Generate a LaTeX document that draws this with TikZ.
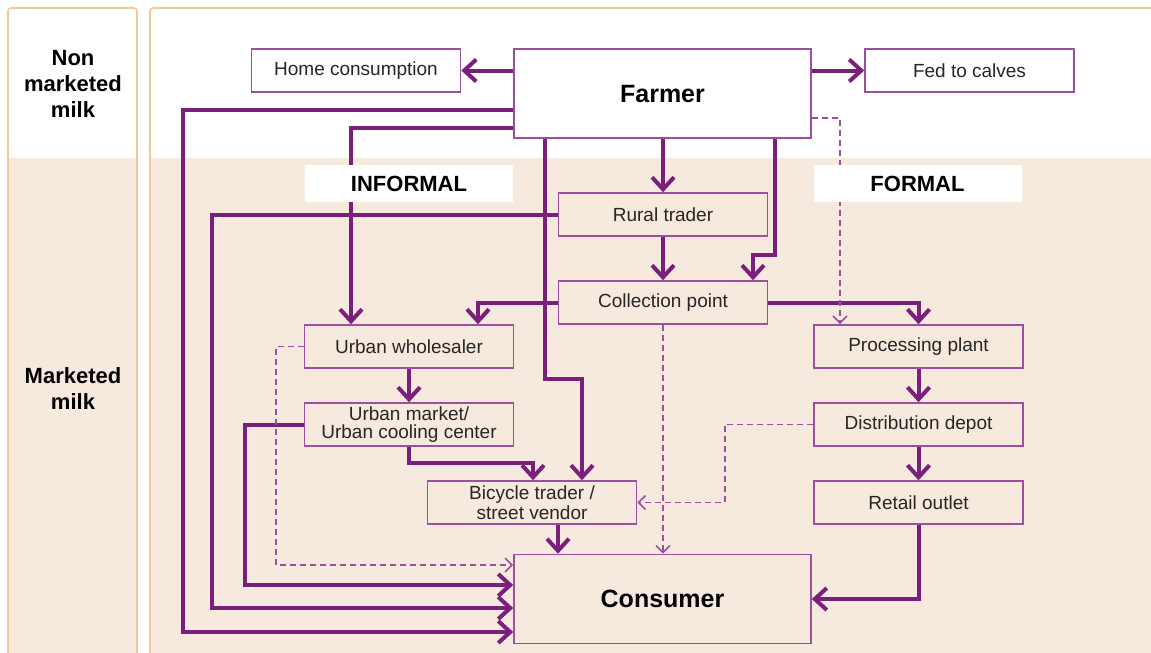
\documentclass[tikz,border=0pt]{standalone}
\usepackage{fontspec}
\setmainfont{Liberation Sans}
\usetikzlibrary{arrows.meta}
\definecolor{milk}{HTML}{7A1F7C}
\definecolor{boxline}{HTML}{9C4F9E}
\definecolor{sand}{HTML}{F6E9DD}
\definecolor{peach}{HTML}{F2C89B}
\definecolor{ink}{HTML}{262626}

\begin{document}
\begin{tikzpicture}[x=0.5pt, y=-0.5pt, >={Straight Barb[length=6pt,width=11pt]},
	box/.style={draw=boxline, line width=0.8pt, minimum width=104.5pt, minimum height=21.5pt, inner sep=0pt, text=ink, font=\fontsize{9.5}{8.8}\selectfont, align=center},
	big/.style={box, minimum width=148.5pt, minimum height=44.5pt, text=black, text depth=0pt, font=\fontsize{12.5}{14}\selectfont\bfseries},
	flow/.style={->, draw=milk, line width=2pt},
	maybe/.style={-{Straight Barb[length=3.5pt,width=7pt]}, draw=boxline, line width=0.8pt, dash pattern=on 3pt off 2pt},
	tag/.style={font=\fontsize{11}{13}\selectfont\bfseries, text=black, align=center}]
				\useasboundingbox (0,0) rectangle (1151,653);
				% the two panels
				\fill[white] (8,8) rectangle (137,660);
				\fill[sand] (8,158) rectangle (137,660);
				\draw[peach, line width=0.8pt, rounded corners=1.5pt] (8,8) rectangle (137,660);
				\fill[white] (150,8) rectangle (1160,660);
				\fill[sand] (150,158) rectangle (1160,660);
				\draw[peach, line width=0.8pt, rounded corners=1.5pt] (150,8) rectangle (1160,660);
				\node[tag] (nonmkt) at (73,84) {Non\\marketed\\milk};
				\node[tag] (mkt) at (73,389) {Marketed\\milk};
				% nodes
				\node[big, fill=white] (farmer) at (662.5,93.5) {Farmer};
				\node[box, fill=white] (home) at (356,70.5) {Home consumption};
				\node[box, fill=white] (fed) at (969.5,70.5) {Fed to calves};
				\node[box] (rural) at (663,214.5) {Rural trader};
				\node[box] (coll) at (663,302.5) {Collection point};
				\node[box] (wholesale) at (409,346.5) {Urban wholesaler};
				\node[box] (market) at (409,424.5) {Urban market/\\Urban cooling center};
				\node[box] (bicycle) at (532,502.5) {Bicycle trader /\\street vendor};
				\node[box] (plant) at (918.5,346.5) {Processing plant};
				\node[box] (depot) at (918.5,424.5) {Distribution depot};
				\node[box] (retail) at (918.5,502.5) {Retail outlet};
				\node[big] (consumer) at (662.5,599) {Consumer};
				% solid flows
				\draw[flow] (farmer.west |- home.east) -- (home.east);
				\draw[flow] (farmer.east |- fed.west) -- (fed.west);
				\draw[flow] (farmer.west |- 0,110) -- (183,110) |- (consumer.west |- 0,632);
				\draw[flow] (farmer.west |- 0,128) -| (wholesale.north -| 351,0);
				\draw[flow] (rural.west) -| (212,400) |- (consumer.west |- 0,608);
				\draw[flow] (farmer.south -| 545,0) |- (582,379) -- (bicycle.north -| 582,0);
				\draw[flow] (farmer.south -| rural.north) -- (rural.north);
				\draw[flow] (farmer.south -| 775,0) |- (753,255) -- (coll.north -| 753,0);
				\draw[flow] (rural) -- (coll);
				\draw[flow] (coll.west) -| (wholesale.north -| 478,0);
				\draw[flow] (coll.east) -| (plant.north);
				\draw[flow] (plant) -- (depot);
				\draw[flow] (depot) -- (retail);
				\draw[flow] (retail.south) |- (consumer.east);
				\draw[flow] (wholesale) -- (market);
				\draw[flow] (market.south) |- (533,463) -- (bicycle.north -| 533,0);
				\draw[flow] (market.west) -| (245,500) |- (consumer.west |- 0,585);
				\draw[flow] (bicycle.south -| 558,0) -- (consumer.north -| 558,0);
				% dashed flows
				\draw[maybe] (farmer.east |- 0,118) -| (plant.north -| 840,0);
				\draw[maybe] (wholesale.west) -| (276,450) |- (consumer.west |- 0,565);
				\draw[maybe] (coll.south) -- (consumer.north -| coll.south);
				\draw[maybe] (depot.west) -| (725,470) |- (bicycle.east);
				% sector labels on top
				\node[tag, fill=white, minimum width=104pt, minimum height=18.5pt, inner sep=0pt] (informal) at (409,183.5) {INFORMAL};
				\node[tag, fill=white, minimum width=104pt, minimum height=18.5pt, inner sep=0pt] (formal) at (917.5,183.5) {FORMAL};
\end{tikzpicture}
\end{document}
